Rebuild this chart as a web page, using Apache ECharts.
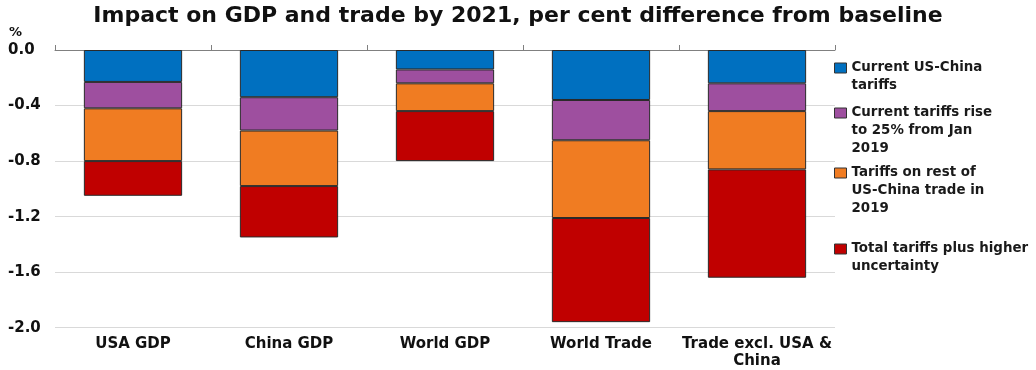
<!DOCTYPE html>
<html><head><meta charset="utf-8">
<script src="https://cdn.jsdelivr.net/npm/echarts@6/dist/echarts.min.js"></script>
<style>html,body{margin:0;padding:0;background:#fff}#c{width:1036px;height:370px}</style>
</head><body><div id="c"></div>
<script>
const categories = ['USA GDP', 'China GDP', 'World GDP', 'World Trade', 'Trade excl. USA &\nChina'];
const seriesNames = ['Current US-China tariffs', 'Current tariffs rise to 25% from Jan 2019', 'Tariffs on rest of US-China trade in 2019', 'Total tariffs plus higher uncertainty'];
const legendLabels = ['Current US-China\ntariffs', 'Current tariffs rise\nto 25% from Jan\n2019', 'Tariffs on rest of\nUS-China trade in\n2019', 'Total tariffs plus higher\nuncertainty'];
const currentTariffs = [-0.23, -0.34, -0.14, -0.36, -0.24];
const tariffRise = [-0.19, -0.24, -0.10, -0.29, -0.20];
const restOfTrade = [-0.38, -0.40, -0.20, -0.56, -0.42];
const uncertainty = [-0.25, -0.37, -0.36, -0.75, -0.78];
const colors = ['#0070C0', '#9E4F9F', '#F07C22', '#C00000'];

const values = [currentTariffs, tariffRise, restOfTrade, uncertainty];
const font = '"DejaVu Sans", sans-serif';
const lh = 18;
const sqW = 12, sqH = 10;
const legendCenters = [68, 113, 173, 249];
const legends = legendLabels.map((lab, i) => {
  const n = lab.split('\n').length;
  const H = (n - 1) * lh + sqH;
  return {
    left: 834,
    top: legendCenters[i] - lh / 2,
    orient: 'vertical',
    itemWidth: sqW, itemHeight: H, itemGap: 0,
    padding: 0,
    icon: 'path://M0,0 L' + sqW + ',0 L' + sqW + ',' + sqH + ' L0,' + sqH + ' Z M0,' + H,
    selectedMode: false,
    data: [{ name: seriesNames[i], itemStyle: { borderColor: '#333', borderWidth: 1 } }],
    formatter: () => lab,
    textStyle: { fontFamily: font, fontWeight: 'bold', fontSize: 13.4, color: '#1a1a1a', lineHeight: lh }
  };
});

const chart = echarts.init(document.getElementById('c'), null, { renderer: 'canvas' });
chart.setOption({
  animation: false,
  title: [
    { text: 'Impact on GDP and trade by 2021, per cent difference from baseline', left: 'center', top: 0,
      textStyle: { fontFamily: font, fontWeight: 'bold', fontSize: 22, color: '#111' } },
    { text: '%', left: 9, top: 26, padding: 0, textStyle: { fontFamily: font, fontWeight: 'bold', fontSize: 13, color: '#111' } }
  ],
  legend: legends,
  grid: { left: 55, right: 201, top: 50, bottom: 42.3, containLabel: false },
  xAxis: [
    { type: 'category', data: categories, position: 'bottom',
      axisLine: { show: false }, axisTick: { show: false },
      axisLabel: { margin: 8, fontFamily: font, fontWeight: 'bold', fontSize: 15, color: '#111', lineHeight: 17, interval: 0 } },
    { type: 'category', data: categories, position: 'top',
      axisLine: { show: true, lineStyle: { color: '#808080', width: 1 } },
      axisTick: { show: true, length: 5, lineStyle: { color: '#808080' } },
      axisLabel: { show: false } }
  ],
  yAxis: {
    type: 'value', min: -2.0, max: 0, interval: 0.4,
    axisLine: { show: false }, axisTick: { show: false },
    splitLine: { lineStyle: { color: '#d9d9d9', width: 1 } },
    axisLabel: { align: 'left', margin: 47, fontFamily: font, fontWeight: 'bold', fontSize: 15, color: '#111',
      formatter: v => v.toFixed(1) }
  },
  series: values.map((arr, i) => ({
    name: seriesNames[i], type: 'bar', stack: 'total', data: arr,
    barCategoryGap: '37%',
    itemStyle: { color: colors[i], borderColor: '#2a2a2a', borderWidth: 1 }
  }))
});
</script></body></html>
